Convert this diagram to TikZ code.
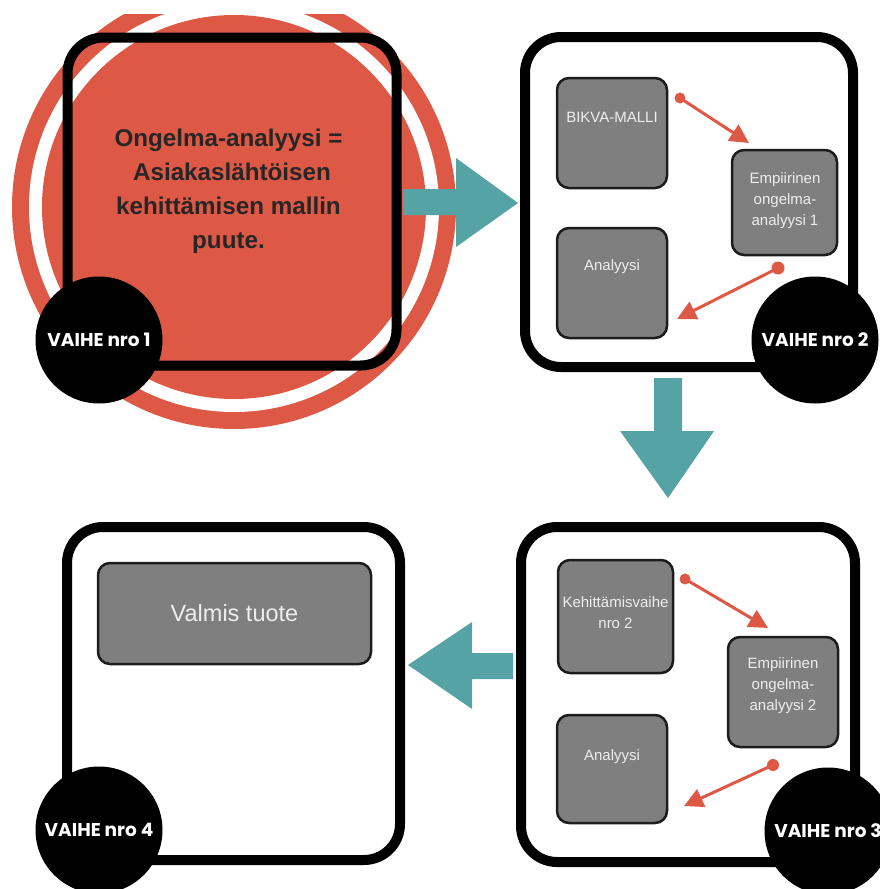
\documentclass[tikz,border=0pt]{standalone}
\usepackage{fontspec}
\setmainfont{Liberation Sans}
\newfontfamily\vaihefont{Poppins}
\usetikzlibrary{arrows.meta}

\definecolor{circred}{HTML}{DE5846}
\definecolor{flowteal}{HTML}{55A3A5}
\definecolor{boxgray}{HTML}{7F7F7F}
\definecolor{boxline}{HTML}{1C1C1C}
\definecolor{boxtxt}{HTML}{EEEEEE}
\definecolor{headtxt}{HTML}{262626}

\tikzset{
  panel/.style={draw=black, line width=10pt, rounded corners=36pt, inner sep=0pt},
  graybox/.style={draw=boxline, fill=boxgray, line width=2.5pt, rounded corners=12pt, inner sep=0pt},
  boxtext/.style={text=boxtxt, font=\fontsize{15}{21}\selectfont, align=center, inner sep=0pt},
  stage/.style={circle, fill=black, minimum size=127pt, inner sep=0pt,
    text=white, font=\vaihefont\bfseries\fontsize{18.5}{18.5}\selectfont},
  flow/.style={draw=circred, line width=3pt, -{Triangle[length=19pt,width=19pt]}},
  flowdot/.style={fill=circred},
  bigarrow/.style={fill=flowteal},
}

\begin{document}
\begin{tikzpicture}[x=1pt, y=-1pt]
\useasboundingbox (0,0) rectangle (880,889);
\clip (0,0) rectangle (880,889);

% ---------- stage 1: red target disc behind the first panel ----------
\begin{scope}
  \clip (0,14) rectangle (880,889);
  \fill[circred] (234,207) circle (222pt);
  \fill[white]   (234,207) circle (205pt);
  \fill[circred] (234,207) circle (192pt);
\end{scope}
\node[panel, minimum width=329pt, minimum height=328pt] (p1) at (232,201.5) {};
\node[text=headtxt, align=center, inner sep=0pt,
      font=\bfseries\fontsize{24.2}{34}\selectfont] (goal) at (228.5,191)
  {Ongelma-analyysi =\\\hspace*{7pt}Asiakaslähtöisen\\kehittämisen mallin\\puute.};

% ---------- stage 2 ----------
\node[panel, minimum width=328pt, minimum height=330pt] (p2) at (689,202) {};
\node[graybox, minimum width=110pt, minimum height=110pt] (b1) at (612,133) {};
\node[graybox, minimum width=105pt, minimum height=105pt] (b2) at (784.5,202.5) {};
\node[graybox, minimum width=110pt, minimum height=110pt] (b3) at (612,283) {};
\node[boxtext] (b1t) at (612,117) {BIKVA-MALLI};
\node[boxtext] (b2t) at (785,201) {Empiirinen\\ongelma-\\analyysi 1};
\node[boxtext] (b3t) at (612,267) {Analyysi};

\coordinate (d1) at (680,98);  \coordinate (t1) at (749,143);
\coordinate (d2) at (778,268); \coordinate (t2) at (677,319);
\draw[flow] (d1) -- (t1);
\draw[flow] (d2) -- (t2);
\fill[flowdot] (d1) circle (5.5pt);
\fill[flowdot] (d2) circle (6.5pt);

% ---------- stage 3 ----------
\node[panel, minimum width=334pt, minimum height=335pt] (p3) at (688,694.5) {};
\node[graybox, minimum width=115pt, minimum height=113pt] (c1) at (615.5,616.5) {};
\node[graybox, minimum width=110pt, minimum height=110pt] (c2) at (783,692) {};
\node[graybox, minimum width=110pt, minimum height=108pt] (c3) at (612,769) {};
\node[boxtext] (c1t) at (615.5,613) {Kehittämisvaihe\\nro 2};
\node[boxtext] (c2t) at (783,686) {Empiirinen\\ongelma-\\analyysi 2};
\node[boxtext] (c3t) at (612,757) {Analyysi};

\coordinate (d3) at (685,579); \coordinate (t3) at (768,628);
\coordinate (d4) at (773,765); \coordinate (t4) at (684,806);
\draw[flow] (d3) -- (t3);
\draw[flow] (d4) -- (t4);
\fill[flowdot] (d3) circle (5.5pt);
\fill[flowdot] (d4) circle (6pt);

% ---------- stage 4 ----------
\node[panel, minimum width=333pt, minimum height=333pt] (p4) at (233.5,693.5) {};
\node[graybox, minimum width=273pt, minimum height=101pt, text=boxtxt,
      font=\fontsize{23.5}{28}\selectfont] (e1) at (234.5,613.5) {Valmis tuote};

% ---------- block arrows between the stages ----------
\fill[bigarrow] (403,189) -- (456,189) -- (456,158) -- (518,203)
  -- (456,247) -- (456,215) -- (403,215) -- cycle;
\fill[bigarrow] (654,378) -- (682,378) -- (682,431) -- (714,431)
  -- (668,498) -- (620,431) -- (654,431) -- cycle;
\fill[bigarrow] (513,653) -- (472,653) -- (472,622) -- (408,665)
  -- (472,709) -- (472,679) -- (513,679) -- cycle;

% ---------- stage badges ----------
\node[stage] (v1) at (99,340) {VAIHE nro 1};
\node[stage] (v2) at (815,340) {VAIHE nro 2};
\node[stage] (v3) at (828,831) {VAIHE nro 3};
\node[stage] (v4) at (99,830) {VAIHE nro 4};
\end{tikzpicture}
\end{document}
